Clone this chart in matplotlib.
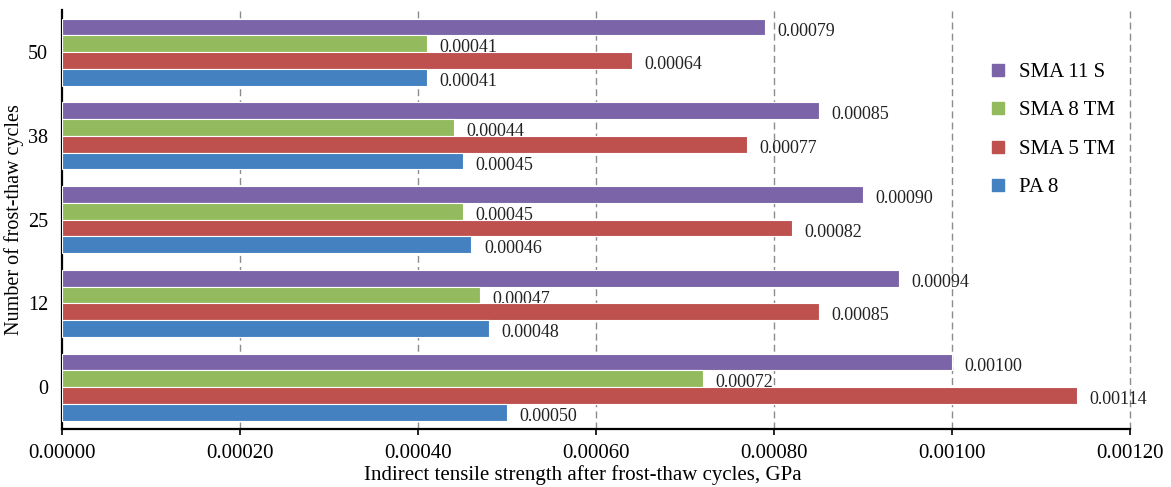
import matplotlib.pyplot as plt
import numpy as np
from matplotlib.lines import Line2D

cycles = ["0", "12", "25", "38", "50"]
series = ["SMA 11 S", "SMA 8 TM", "SMA 5 TM", "PA 8"]
sma11s = [0.00100, 0.00094, 0.00090, 0.00085, 0.00079]
sma8tm = [0.00072, 0.00047, 0.00045, 0.00044, 0.00041]
sma5tm = [0.00114, 0.00085, 0.00082, 0.00077, 0.00064]
pa8 = [0.00050, 0.00048, 0.00046, 0.00045, 0.00041]
colors = ["#7B65A8", "#93BB5E", "#BE504E", "#4381C1"]

plt.rcParams['font.family'] = ['Liberation Serif', 'DejaVu Serif']

fig = plt.figure(figsize=(11.71, 4.87), dpi=100)
ax = fig.add_axes([0.053, 0.119, 0.912, 0.86])

y = np.arange(len(cycles))
h = 0.2
data = [sma11s, sma8tm, sma5tm, pa8]
offsets = [1.5 * h, 0.5 * h, -0.5 * h, -1.5 * h]

for vals, off, c in zip(data, offsets, colors):
    bars = ax.barh(y + off, vals, height=h, color=c, edgecolor='white', linewidth=0.8, zorder=3)
    for b, v in zip(bars, vals):
        ax.annotate("%.5f" % v, (v, b.get_y() + h / 2), xytext=(9, -3),
                    textcoords='offset points', va='center', ha='left', fontsize=13, color='#222222')

ax.set_xlim(0, 0.0012)
ax.set_ylim(-0.5, 4.5)
ticks = np.arange(0, 0.00121, 0.0002)
ax.set_xticks(ticks)
ax.set_xticklabels(["%.5f" % t for t in ticks])
ax.set_yticks(y)
ax.set_yticklabels(cycles)
ax.tick_params(axis='x', labelsize=15, length=4, width=1.2, pad=7, color='black')
ax.tick_params(axis='y', labelsize=14.5, length=0, pad=10)

for t in ticks[1:]:
    ax.axvline(t, color='#8c8c8c', linestyle=(0, (5, 3)), linewidth=1.0, zorder=1, clip_on=False)

for s in ['top', 'right']:
    ax.spines[s].set_visible(False)
ax.spines['left'].set_linewidth(1.6)
ax.spines['bottom'].set_linewidth(1.6)

ax.set_xlabel("Indirect tensile strength after frost-thaw cycles, GPa", fontsize=15, labelpad=1)
ax.xaxis.label.set_x(0.488)
ax.set_ylabel("Number of frost-thaw cycles", fontsize=14.5)
ax.yaxis.set_label_coords(-0.036, 0.5)

handles = [Line2D([0], [0], marker='s', linestyle='none', markersize=8, color=c) for c in colors]
fig.legend(handles, series, loc='upper left', bbox_to_anchor=(0.827, 0.91), frameon=False,
           fontsize=15, handletextpad=0.55, labelspacing=0.9, handlelength=1.0)

fig.savefig("out.png", dpi=100)
